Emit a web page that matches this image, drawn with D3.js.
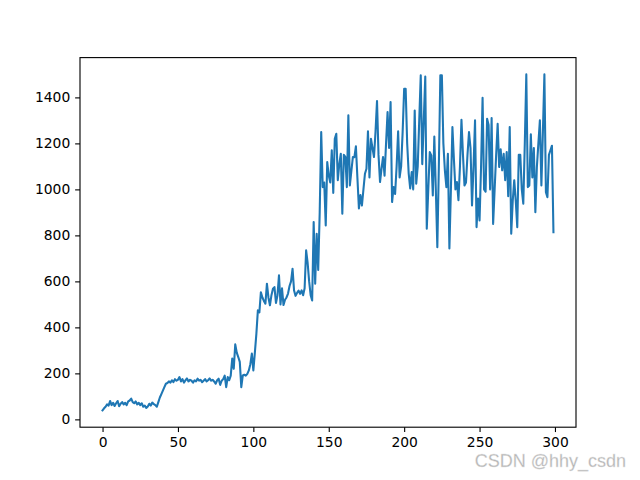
<!DOCTYPE html>
<html><head><meta charset="utf-8">
<script src="https://cdn.jsdelivr.net/npm/d3@7"></script>
<style>body{margin:0;background:#fff}svg{display:block}</style>
</head><body>
<svg id="c" width="640" height="480"></svg>
<script>
const values = [
39,48,55,65,60,80,62,72,58,70,
80,57,68,75,65,72,62,78,82,90,
75,70,78,65,72,62,70,55,60,50,
56,68,60,73,66,62,55,75,95,110,
125,140,155,158,165,160,170,162,175,168,
172,184,165,175,160,170,178,165,172,168,
160,170,165,177,168,172,162,168,175,165,
170,178,168,172,165,155,170,177,150,168,
175,190,140,184,170,190,264,220,326,290,
271,250,140,191,194,190,198,213,240,286,
213,290,372,474,465,553,530,515,503,590,
530,496,540,568,575,506,540,626,500,570,
497,520,530,547,580,600,655,560,537,550,
560,546,561,540,570,735,680,600,540,517,
858,590,807,650,900,1249,1010,1030,843,1119,
1060,1030,1170,985,1220,1242,1040,1110,1155,894,
1150,1141,1010,1322,1017,1080,1141,1140,1187,1050,
917,975,930,1000,1068,1090,1253,1052,1220,1180,
1141,1250,1384,1150,1032,1090,1141,1060,1200,1336,
1180,1380,945,1010,980,1100,1253,1052,1100,1250,
1437,1437,1200,1070,1004,1075,1000,1343,1025,1100,
1300,1496,1110,1300,1491,829,1000,1162,1148,974,
1230,1000,749,1100,1496,1496,1200,1083,1010,1155,
743,1000,1271,1130,1000,1032,953,1100,1303,1150,
1017,1030,1150,1249,1180,930,1100,1300,836,960,
865,1100,1398,1000,990,1307,1280,1000,1310,850,
1000,1150,1285,1097,1174,1083,1155,1040,1162,970,
1271,807,950,1040,950,836,1150,1150,1000,938,
1200,1500,1010,1017,1240,1052,1180,901,1097,1200,
1300,1017,1250,1500,988,966,1150,1170,1190,814
];
const xTicks = [0,50,100,150,200,250,300];
const yTicks = [0,200,400,600,800,1000,1200,1400];
const watermark = "CSDN @hhy_csdn";

const svg = d3.select("#c");
const L = 80, T = 57.6, W = 496, H = 369.6;
const n = values.length;
const xr = n - 1;
const x = d3.scaleLinear().domain([0 - 0.05*xr, xr + 0.05*xr]).range([L, L+W]);
const vmin = d3.min(values), vmax = d3.max(values), vr = vmax - vmin;
const y = d3.scaleLinear().domain([vmin - 0.05*vr, vmax + 0.05*vr]).range([T+H, T]);

const line = d3.line().x((d,i)=>x(i)).y(d=>y(d));
svg.append("path").datum(values).attr("d", line)
  .attr("fill","none").attr("stroke","#1f77b4").attr("stroke-width",2.08)
  .attr("stroke-linejoin","round").attr("stroke-linecap","square");

const fs = 13.89;
const xa = svg.append("g").attr("transform",`translate(0,${T+H})`)
  .call(d3.axisBottom(x).tickValues(xTicks).tickSize(4.86).tickPadding(4.86).tickFormat(d3.format("d")));
const ya = svg.append("g").attr("transform",`translate(${L},0)`)
  .call(d3.axisLeft(y).tickValues(yTicks).tickSize(4.86).tickPadding(4.86).tickFormat(d3.format("d")));
[xa,ya].forEach(a=>{
  a.select(".domain").remove();
  a.selectAll("line").attr("stroke","#000").attr("stroke-width",1.11);
  a.selectAll("text").attr("fill","#000").style("font-family","DejaVu Sans").style("font-size",fs+"px");
});
svg.append("rect").attr("x",L).attr("y",T).attr("width",W).attr("height",H)
  .attr("fill","none").attr("stroke","#000").attr("stroke-width",1.11);

svg.append("text").attr("x",626).attr("y",467).attr("text-anchor","end")
  .style("font-family","Liberation Sans, Arial, sans-serif").style("font-size","18px")
  .attr("fill","#b4b4b4").attr("stroke","#e8e8e8").attr("stroke-width",0.3)
  .text(watermark);
</script>
</body></html>
